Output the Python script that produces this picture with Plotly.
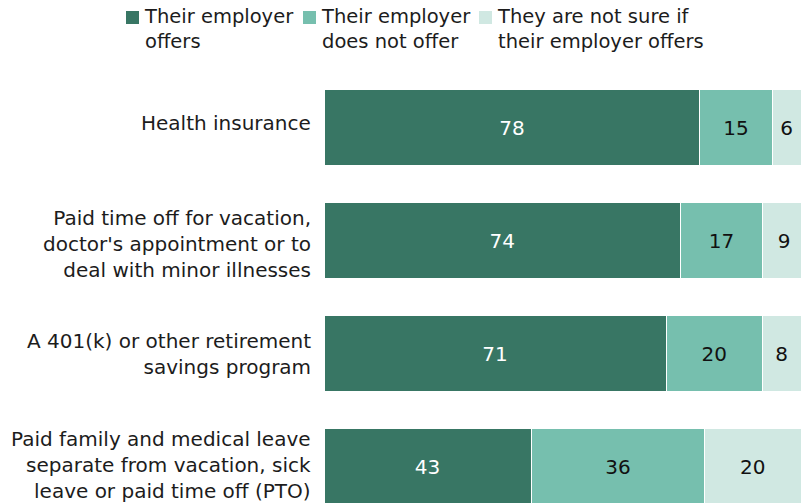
import plotly.graph_objects as go

# Workplace benefits: share of workers saying their employer offers each benefit
categories = [
    "Health insurance",
    "Paid time off for vacation,<br>doctor's appointment or to<br>deal with minor illnesses",
    "A 401(k) or other retirement<br>savings program",
    "Paid family and medical leave<br>separate from vacation, sick<br>leave or paid time off (PTO)",
]
offers = [78, 74, 71, 43]
does_not_offer = [15, 17, 20, 36]
not_sure = [6, 9, 8, 20]

series_names = [
    "Their employer<br>offers",
    "Their employer<br>does not offer",
    "They are not sure if<br>their employer offers",
]
series_values = [offers, does_not_offer, not_sure]
colors = ["#387664", "#76bfae", "#d0e8e2"]
text_colors = ["#ffffff", "#111111", "#111111"]

FONT = "DejaVu Sans"
W, H = 801, 503
M_L, M_T = 324, 71
plot_h = H - M_T

positions = list(range(len(categories)))
label_shift = [5, -3, 0, 2]

fig = go.Figure()
for name, vals, col, tcol in zip(series_names, series_values, colors, text_colors):
    fig.add_trace(go.Bar(
        y=positions,
        x=vals,
        orientation="h",
        name=name,
        marker=dict(color=col, line=dict(color="#ffffff", width=1)),
        text=vals,
        texttemplate="%{text}",
        textposition="inside",
        insidetextanchor="middle",
        textangle=0,
        textfont=dict(family=FONT, size=20, color=tcol),
        showlegend=False,
        hoverinfo="skip",
    ))

# category labels to the left of each bar
for pos, label, dy in zip(positions, categories, label_shift):
    fig.add_annotation(
        x=0, xref="paper", xshift=-11, xanchor="right",
        y=pos, yref="y", yanchor="middle", yshift=dy,
        text=label, align="right", showarrow=False,
        font=dict(family=FONT, size=20, color="#1c1c1c"),
    )


def py(px):
    """Convert a pixel row from the top of the figure to paper y."""
    return 1 + (M_T - px) / plot_h


def pxx(px):
    plot_w = W - M_L
    return (px - M_L) / plot_w


# legend: colour square plus two-line label
legend_x = [126, 303, 479]
for x0, name, col in zip(legend_x, series_names, colors):
    fig.add_shape(
        type="rect", xref="paper", yref="paper",
        x0=pxx(x0), x1=pxx(x0 + 13), y0=py(11), y1=py(24),
        fillcolor=col, line=dict(width=0),
    )
    fig.add_annotation(
        x=pxx(x0 + 16), xref="paper", xanchor="left",
        y=py(3), yref="paper", yanchor="top",
        text=name, align="left", showarrow=False,
        font=dict(family=FONT, size=19.5, color="#1c1c1c"),
    )

fig.update_layout(
    barmode="stack",
    bargap=0.336,
    width=W, height=H, autosize=False,
    margin=dict(l=M_L, r=0, t=M_T, b=0, pad=0),
    plot_bgcolor="#ffffff", paper_bgcolor="#ffffff",
    uniformtext=dict(minsize=10, mode="show"),
    xaxis=dict(range=[0, 99], visible=False, fixedrange=True),
    yaxis=dict(range=[3.5 - 20 / 113, -0.5], visible=False, fixedrange=True),
)

fig.write_html("out.html")
